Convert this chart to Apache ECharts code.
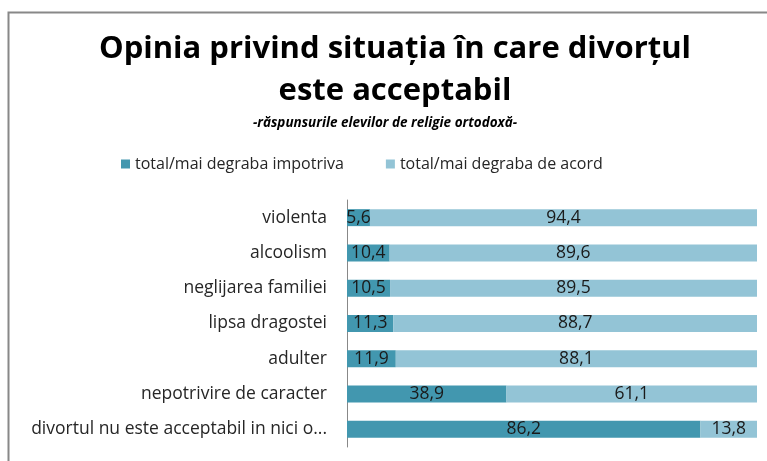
<!DOCTYPE html>
<html>
<head>
<meta charset="utf-8">
<script src="https://cdn.jsdelivr.net/npm/echarts@6/dist/echarts.min.js"></script>
<style>
  html, body { margin: 0; padding: 0; background: #fff; }
  #chart { width: 767px; height: 461px; }
</style>
</head>
<body>
<div id="chart"></div>
<script>
const categories = [
  'violenta',
  'alcoolism',
  'neglijarea familiei',
  'lipsa dragostei',
  'adulter',
  'nepotrivire de caracter',
  'divortul nu este acceptabil in nici o...'
]
const impotriva = [5.6, 10.4, 10.5, 11.3, 11.9, 38.9, 86.2]
const deAcord = [94.4, 89.6, 89.5, 88.7, 88.1, 61.1, 13.8]
const seriesNames = ['total/mai degraba impotriva', 'total/mai degraba de acord']

const font = '"Open Sans", Lato, sans-serif'
const myChart = echarts.init(document.getElementById('chart'))

function commaLabel(p) {
  return String(p.value).replace('.', ',')
}

let option = {
  animation: false,
  color: ['#4297af', '#93c4d6'],
  title: [
    {
      text: 'Opinia privind situația în care divorțul\neste acceptabil',
      left: 390,
      top: 23,
      textAlign: 'center',
      textStyle: {
        fontFamily: font,
        fontSize: 31,
        fontWeight: 'bold',
        color: '#000',
        lineHeight: 42
      }
    },
    {
      text: '-răspunsurile elevilor de religie ortodoxă-',
      left: 380,
      top: 111,
      textAlign: 'center',
      textStyle: {
        fontFamily: font,
        fontSize: 13.5,
        fontWeight: 'bold',
        fontStyle: 'italic',
        color: '#000'
      }
    }
  ],
  legend: {
    left: 116,
    top: 151,
    itemWidth: 9,
    itemHeight: 9,
    itemGap: 42,
    icon: 'rect',
    textStyle: {fontFamily: font, fontSize: 16, color: '#262626'},
    data: seriesNames
  },
  grid: {
    left: 347,
    right: 10,
    top: 200,
    bottom: 14
  },
  xAxis: {
    type: 'value',
    min: 0,
    max: 100,
    show: false
  },
  yAxis: {
    type: 'category',
    inverse: true,
    data: categories,
    axisLine: {show: true, lineStyle: {color: '#888'}},
    axisTick: {show: false},
    axisLabel: {fontFamily: font, fontSize: 17.5, color: '#262626', margin: 20}
  },
  series: [
    {
      name: seriesNames[0],
      type: 'bar',
      stack: 'total',
      barWidth: 17,
      data: impotriva,
      label: {show: true, position: 'inside', fontFamily: font, fontSize: 17.5, color: '#1a1a1a', formatter: commaLabel}
    },
    {
      name: seriesNames[1],
      type: 'bar',
      stack: 'total',
      barWidth: 17,
      data: deAcord,
      label: {show: true, position: 'inside', fontFamily: font, fontSize: 17.5, color: '#1a1a1a', formatter: commaLabel}
    }
  ],
  graphic: [
    {
      type: 'rect',
      shape: {x: 8.5, y: 12.5, width: 800, height: 500},
      style: {fill: 'none', stroke: '#888', lineWidth: 2},
      silent: true
    }
  ]
}
myChart.setOption(option)
</script>
</body>
</html>
